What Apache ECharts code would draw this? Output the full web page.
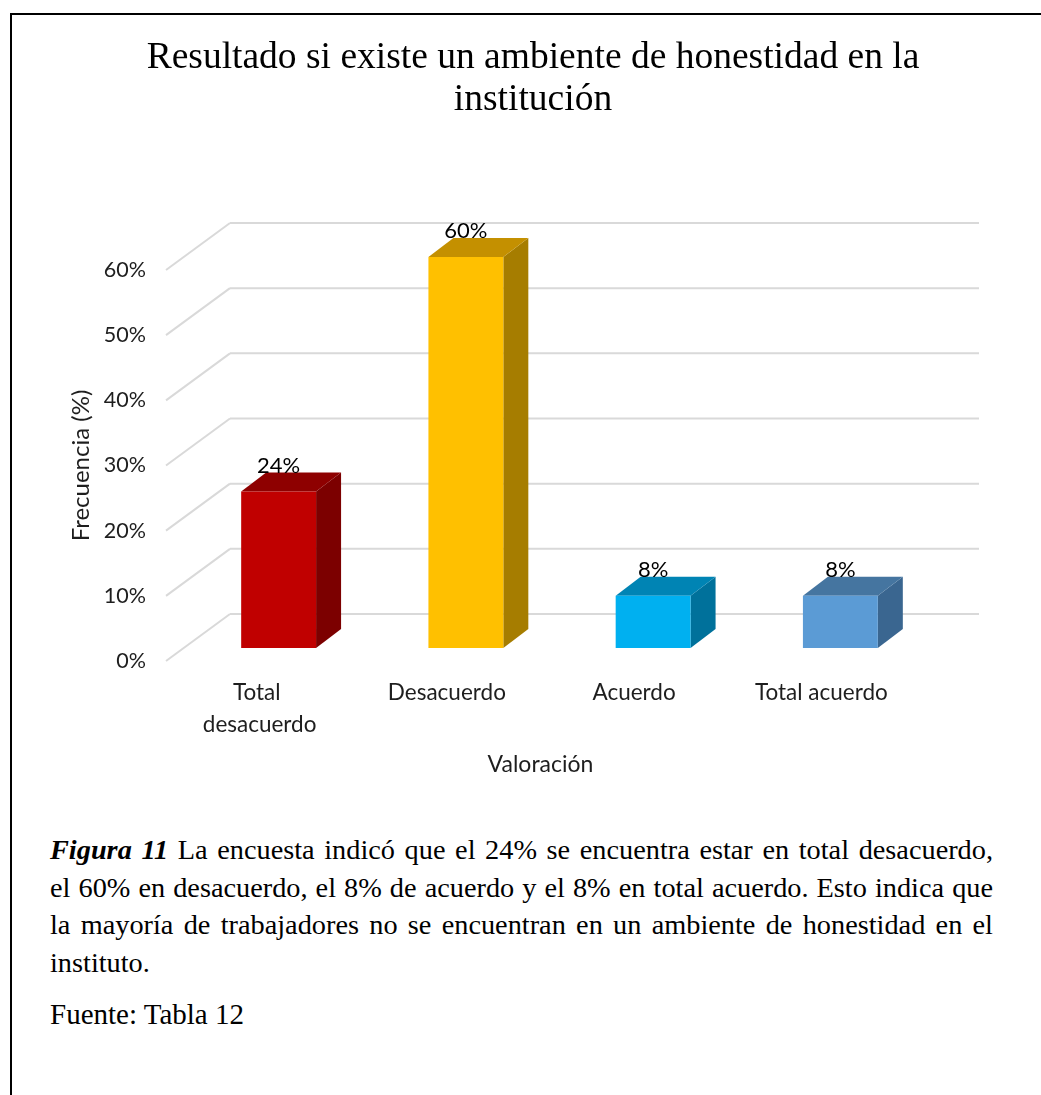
<!DOCTYPE html>
<html>
<head>
<meta charset="utf-8">
<script src="https://cdn.jsdelivr.net/npm/echarts@6/dist/echarts.min.js"></script>
<style>
  html, body { margin: 0; padding: 0; background: #fff; }
  body { width: 1041px; height: 1095px; position: relative; overflow: hidden; }
  #frame { position: absolute; left: 10px; top: 13px; width: 1100px; height: 1200px;
           border-left: 2px solid #000; border-top: 2px solid #000; box-sizing: border-box; }
  #chart { position: absolute; left: 0; top: 0; width: 1041px; height: 800px; }
  #caption { position: absolute; left: 50px; top: 831px; width: 943px;
             font-family: "Liberation Serif", "Times New Roman", serif; font-size: 28.3px;
             line-height: 37.5px; color: #000; }
  #caption .ln { text-align: justify; text-align-last: justify; white-space: nowrap; }
  #caption .last { text-align: left; text-align-last: left; }
  #fuente { position: absolute; left: 50px; top: 996px;
            font-family: "Liberation Serif", "Times New Roman", serif; font-size: 29px;
            line-height: 37.5px; color: #000; }
</style>
</head>
<body>
<div id="frame"></div>
<div id="chart"></div>
<div id="caption">
  <div class="ln"><b><i>Figura 11</i></b> La encuesta indicó que el 24% se encuentra estar en total desacuerdo,</div>
  <div class="ln">el 60% en desacuerdo, el 8% de acuerdo y el 8% en total acuerdo. Esto indica que</div>
  <div class="ln">la mayoría de trabajadores no se encuentran en un ambiente de honestidad en el</div>
  <div class="ln last">instituto.</div>
</div>
<div id="fuente">Fuente: Tabla 12</div>
<script>
// ---- data ----
const categories = ['Total desacuerdo', 'Desacuerdo', 'Acuerdo', 'Total acuerdo'];
const values = [24, 60, 8, 8];
const yTicks = [0, 10, 20, 30, 40, 50, 60];
const titleText = 'Resultado si existe un ambiente de honestidad en la\ninstitución';

// ---- style ----
const frontColors = ['#C00000', '#FFC000', '#00B0F0', '#5B9BD5'];
const topColors   = ['#8E0000', '#C49000', '#0084B4', '#4575A0'];
const sideColors  = ['#7C0000', '#A67D00', '#00719B', '#3A6690'];
const DEPTH_X = 64, DEPTH_Y = -47;       // wall depth offset
const BAR_OFF_X = 19, BAR_OFF_Y = -13;   // bar position inside the depth
const BAR_DX = 25, BAR_DY = -19;         // bar thickness
const GRID_COLOR = '#D9D9D9';
const SANS = 'Lato, "Open Sans", sans-serif';
const TXT = '#1e1e1e';

const chart = echarts.init(document.getElementById('chart'), null, { renderer: 'canvas' });

const option = {
  backgroundColor: 'transparent',
  animation: false,
  title: {
    text: titleText,
    left: 533,
    top: 37,
    textAlign: 'center',
    padding: 0,
    textStyle: {
      fontFamily: '"Liberation Serif", "Times New Roman", serif',
      fontSize: 37.5, fontWeight: 'normal', color: '#000', lineHeight: 42
    }
  },
  grid: { left: 166, right: 126, top: 270, bottom: 139, containLabel: false },
  xAxis: {
    type: 'category',
    data: categories,
    axisLine: { show: false },
    axisTick: { show: false },
    axisLabel: {
      fontFamily: SANS, fontSize: 22.5, color: TXT, margin: 16,
      lineHeight: 32, width: 160, overflow: 'break', interval: 0
    },
    name: 'Valoración',
    nameLocation: 'middle',
    nameGap: 92,
    nameTextStyle: { fontFamily: SANS, fontSize: 23, color: TXT }
  },
  yAxis: {
    type: 'value',
    min: 0, max: 60, interval: 10,
    axisLine: { show: false },
    axisTick: { show: false },
    splitLine: { show: false },
    axisLabel: { formatter: '{value}%', fontFamily: SANS, fontSize: 21.5, color: TXT, margin: 20 },
    name: 'Frecuencia (%)',
    nameLocation: 'middle',
    nameGap: 73,
    nameTextStyle: { fontFamily: SANS, fontSize: 24, color: TXT }
  },
  series: [
    {
      type: 'custom',
      name: 'walls',
      silent: true,
      z: 1,
      data: yTicks.map(v => [categories[0], v]),
      renderItem: function (params, api) {
        const cs = params.coordSys;
        const yF = api.coord([0, api.value(1)])[1];
        const xF = cs.x;
        return {
          type: 'group',
          children: [
            { type: 'line', shape: { x1: xF, y1: yF, x2: xF + DEPTH_X, y2: yF + DEPTH_Y },
              style: { stroke: GRID_COLOR, lineWidth: 2 } },
            { type: 'line', shape: { x1: xF + DEPTH_X, y1: yF + DEPTH_Y, x2: xF + cs.width + DEPTH_X, y2: yF + DEPTH_Y },
              style: { stroke: GRID_COLOR, lineWidth: 2 } }
          ]
        };
      }
    },
    {
      type: 'custom',
      name: 'Frecuencia',
      z: 5,
      data: values.map((v, i) => [categories[i], v]),
      renderItem: function (params, api) {
        const i = params.dataIndex;
        const idx = api.value(0);
        const v = api.value(1);
        const topPt = api.coord([idx, v]);
        const basePt = api.coord([idx, 0]);
        const bw = api.size([1, 0])[0] * 0.4;
        const cx = topPt[0] + BAR_OFF_X;
        const x0 = cx - bw / 2, x1 = cx + bw / 2;
        const yT = topPt[1] + BAR_OFF_Y, yB = basePt[1] + BAR_OFF_Y;
        return {
          type: 'group',
          children: [
            { type: 'polygon', shape: { points: [[x1, yT], [x1 + BAR_DX, yT + BAR_DY], [x1 + BAR_DX, yB + BAR_DY], [x1, yB]] },
              style: { fill: sideColors[i] } },
            { type: 'polygon', shape: { points: [[x0, yT], [x1, yT], [x1 + BAR_DX, yT + BAR_DY], [x0 + BAR_DX, yT + BAR_DY]] },
              style: { fill: topColors[i] } },
            { type: 'rect', shape: { x: x0, y: yT, width: bw, height: yB - yT },
              style: { fill: frontColors[i] } },
            { type: 'text', x: cx, y: yT - 26,
              style: { text: v + '%', align: 'center', verticalAlign: 'middle',
                       fontFamily: SANS, fontSize: 22, fill: '#000' } }
          ]
        };
      }
    }
  ]
};
chart.setOption(option);
</script>
</body>
</html>
